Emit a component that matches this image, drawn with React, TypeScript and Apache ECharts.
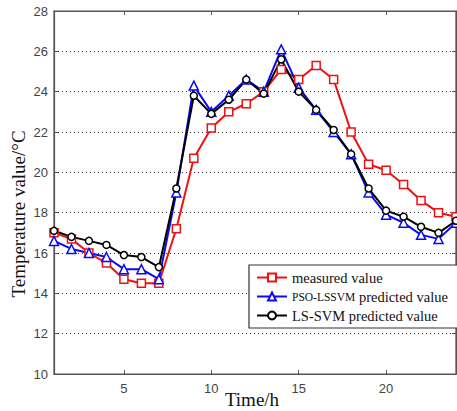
import React, { useEffect, useRef } from "react";
import * as echarts from "echarts";

const hours = [1, 2, 3, 4, 5, 6, 7, 8, 9, 10, 11, 12, 13, 14, 15, 16, 17, 18, 19, 20, 21, 22, 23, 24];
const measured = [17.0, 16.7, 16.0, 15.5, 14.7, 14.5, 14.5, 17.2, 20.7, 22.2, 23.0, 23.4, 24.0, 25.1, 24.6, 25.3, 24.6, 22.0, 20.4, 20.1, 19.4, 18.6, 18.0, 17.8];
const psoLssvm = [16.6, 16.2, 16.0, 15.8, 15.2, 15.2, 14.7, 19.0, 24.3, 23.0, 23.8, 24.6, 24.0, 26.1, 24.2, 23.1, 22.0, 20.9, 19.0, 17.9, 17.5, 16.9, 16.7, 17.5];
const lsSvm = [17.1, 16.8, 16.6, 16.4, 15.9, 15.8, 15.3, 19.2, 23.8, 22.9, 23.6, 24.6, 23.9, 25.6, 24.0, 23.1, 22.1, 20.9, 19.2, 18.1, 17.8, 17.3, 17.0, 17.6];
const seriesNames = ["measured value", "PSO-LSSVM predicted value", "LS-SVM predicted value"];

export default function App() {
  const ref = useRef<HTMLDivElement>(null);
  useEffect(() => {
    if (!ref.current) return;
    const chart = echarts.init(ref.current, null, { renderer: "svg" });
    const pair = (arr: number[]) => hours.map((h, i) => [h, arr[i]]);
    const axisCol = "#555";
    const labelStyle = { color: "#444", fontFamily: "Liberation Sans, Arial, sans-serif", fontSize: 13 };
    chart.setOption({
      animation: false,
      backgroundColor: "#fff",
      grid: { left: 54, right: 1, top: 11, bottom: 37, show: true, borderColor: axisCol, borderWidth: 1.2, backgroundColor: "transparent" },
      xAxis: [
        {
          type: "value", min: 1, max: 24, splitNumber: 5, position: "bottom",
          axisLine: { show: true, lineStyle: { color: axisCol, width: 1.2 } },
          axisTick: { show: true, inside: true, length: 4, lineStyle: { color: axisCol } },
          axisLabel: { ...labelStyle, margin: 8, showMinLabel: false, showMaxLabel: false, formatter: (v: number) => (v % 5 === 0 ? String(v) : "") },
          splitLine: { show: false },
        },
        {
          type: "value", min: 1, max: 24, splitNumber: 5, position: "top",
          axisLine: { show: true, lineStyle: { color: axisCol, width: 1.2 } },
          axisTick: { show: true, inside: true, length: 4, lineStyle: { color: axisCol } },
          axisLabel: { show: false },
          splitLine: { show: false },
        },
      ],
      yAxis: [
        {
          type: "value", min: 10, max: 28, interval: 2, position: "left",
          axisLine: { show: true, lineStyle: { color: axisCol, width: 1.2 } },
          axisTick: { show: true, inside: true, length: 4, lineStyle: { color: axisCol } },
          axisLabel: { ...labelStyle, margin: 6 },
          splitLine: { show: true, lineStyle: { color: "#333", width: 1, type: [1, 3] } },
        },
        {
          type: "value", min: 10, max: 28, interval: 2, position: "right",
          axisLine: { show: true, lineStyle: { color: axisCol, width: 1.2 } },
          axisTick: { show: true, inside: true, length: 4, lineStyle: { color: axisCol } },
          axisLabel: { show: false },
          splitLine: { show: false },
        },
      ],
      legend: {
        left: 249, top: 265, orient: "vertical",
        padding: [5, 10, 5, 7], itemGap: 4, itemWidth: 30, itemHeight: 10,
        backgroundColor: "#fff", borderColor: "#333", borderWidth: 1.2,
        data: seriesNames,
        textStyle: {
          fontFamily: "Liberation Serif, Times New Roman, serif", fontSize: 14.5, color: "#111",
          rich: {
            s: { fontFamily: "Liberation Serif, Times New Roman, serif", fontSize: 11.5, color: "#111" },
            n: { fontFamily: "Liberation Serif, Times New Roman, serif", fontSize: 14.5, color: "#111" },
          },
        },
        formatter: (name: string) => (name === seriesNames[1] ? "{s|PSO-LSSVM}{n| predicted value}" : name),
      },
      graphic: [
        {
          type: "text", x: 18, y: 214, rotation: Math.PI / 2,
          style: { text: "Temperature value/°C", fontFamily: "Liberation Serif, Times New Roman, serif", fontSize: 19, fill: "#111", align: "center", verticalAlign: "middle" },
        },
        {
          type: "text", x: 252, y: 399,
          style: { text: "Time/h", fontFamily: "Liberation Serif, Times New Roman, serif", fontSize: 19, fill: "#111", align: "center", verticalAlign: "middle" },
        },
      ],
      series: [
        {
          name: seriesNames[0], type: "line", data: pair(measured), symbol: "rect", symbolSize: 8,
          lineStyle: { color: "#ee1111", width: 2 },
          itemStyle: { color: "#fff", borderColor: "#ee1111", borderWidth: 1.5 },
        },
        {
          name: seriesNames[1], type: "line", data: pair(psoLssvm), symbol: "triangle", symbolSize: 9,
          lineStyle: { color: "#0a0af0", width: 2 },
          itemStyle: { color: "#fff", borderColor: "#0a0af0", borderWidth: 1.5 },
        },
        {
          name: seriesNames[2], type: "line", data: pair(lsSvm), symbol: "circle", symbolSize: 7,
          lineStyle: { color: "#000", width: 2 },
          itemStyle: { color: "#fff", borderColor: "#000", borderWidth: 1.5 },
        },
      ],
    });
    return () => chart.dispose();
  }, []);
  return <div ref={ref} style={{ width: 457, height: 411, position: "absolute", left: 0, top: 0 }} />;
}
